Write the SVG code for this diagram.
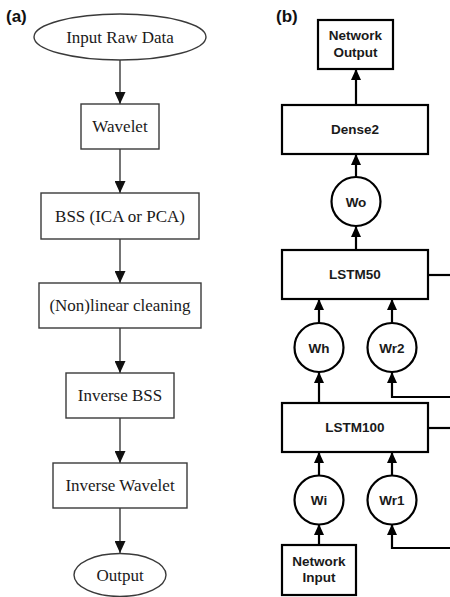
<svg xmlns="http://www.w3.org/2000/svg" width="450" height="597" viewBox="0 0 450 597">
<style>
.lbl{font-family:"Liberation Sans",Arial,sans-serif;font-weight:bold;font-size:17px;fill:#111}
.a-shape{fill:#fff;stroke:#3a3a3a;stroke-width:1.4}
.a-txt{font-family:"Liberation Serif","Times New Roman",serif;font-size:17px;fill:#1a1a1a;text-anchor:middle}
.b-shape{fill:#fff;stroke:#000;stroke-width:2.2}
.b-txt{font-family:"Liberation Sans",Arial,sans-serif;font-weight:bold;font-size:13.5px;fill:#1a1a1a;text-anchor:middle}
.a-con{fill:none;stroke:#3a3a3a;stroke-width:1.4;marker-end:url(#ha)}
.b-con{fill:none;stroke:#000;stroke-width:2.2;marker-end:url(#hb)}
.b-line{fill:none;stroke:#000;stroke-width:2.2}
</style>
<defs>
<marker id="ha" markerUnits="userSpaceOnUse" markerWidth="12" markerHeight="11" refX="12" refY="5.5" orient="auto"><path d="M0,0 L12,5.5 L0,11 z" fill="#111"/></marker>
<marker id="hb" markerUnits="userSpaceOnUse" markerWidth="11" markerHeight="10" refX="11" refY="5" orient="auto"><path d="M0,0 L11,5 L0,10 z" fill="#000"/></marker>
</defs>
<rect width="450" height="597" fill="#fff"/>
<text class="lbl" x="6" y="22">(a)</text>
<text class="lbl" x="276" y="22">(b)</text>

<g id="connectors">
<path class="a-con" d="M120,60 V104"/>
<path class="a-con" d="M120,149 V193"/>
<path class="a-con" d="M120,239 V283"/>
<path class="a-con" d="M120,328 V373"/>
<path class="a-con" d="M120,418 V463"/>
<path class="a-con" d="M120,508 V553"/>

<path class="b-con" d="M356,105 V69"/>
<path class="b-con" d="M356,177 V154"/>
<path class="b-con" d="M356,250 V226"/>
<path class="b-con" d="M319,323 V299"/>
<path class="b-con" d="M392,323 V299"/>
<path class="b-con" d="M319,403 V372"/>
<path class="b-con" d="M450,397 H392 V372"/>
<path class="b-line" d="M428,275 H450"/>
<path class="b-line" d="M428,428 H450"/>
<path class="b-con" d="M319,476 V452"/>
<path class="b-con" d="M392,476 V452"/>
<path class="b-con" d="M319,545 V524"/>
<path class="b-con" d="M450,548 H392 V524"/>
</g>

<g id="input-raw-data"><ellipse class="a-shape" cx="120" cy="37" rx="86" ry="23"/><text class="a-txt" x="120" y="43">Input Raw Data</text></g>
<g id="wavelet"><rect class="a-shape" x="81" y="104" width="78" height="45"/><text class="a-txt" x="120" y="132">Wavelet</text></g>
<g id="bss"><rect class="a-shape" x="41" y="193" width="158" height="46"/><text class="a-txt" x="120" y="221.5">BSS (ICA or PCA)</text></g>
<g id="nonlinear"><rect class="a-shape" x="39" y="283" width="162" height="45"/><text class="a-txt" x="120" y="311">(Non)linear cleaning</text></g>
<g id="inverse-bss"><rect class="a-shape" x="66" y="373" width="108" height="45"/><text class="a-txt" x="120" y="401">Inverse BSS</text></g>
<g id="inverse-wavelet"><rect class="a-shape" x="53" y="463" width="134" height="45"/><text class="a-txt" x="120" y="491">Inverse Wavelet</text></g>
<g id="output"><ellipse class="a-shape" cx="120" cy="575" rx="46" ry="21.5"/><text class="a-txt" x="120" y="581">Output</text></g>

<g id="network-output"><rect class="b-shape" x="318" y="20" width="75" height="49"/><text class="b-txt" x="355.5" y="40">Network</text><text class="b-txt" x="355.5" y="57">Output</text></g>
<g id="dense2"><rect class="b-shape" x="282" y="105" width="146" height="49"/><text class="b-txt" x="355" y="134">Dense2</text></g>
<g id="wo"><circle class="b-shape" cx="356" cy="201.5" r="24.5"/><text class="b-txt" x="356" y="206.5">Wo</text></g>
<g id="lstm50"><rect class="b-shape" x="282" y="250" width="146" height="49"/><text class="b-txt" x="355" y="278.5">LSTM50</text></g>
<g id="wh"><circle class="b-shape" cx="319" cy="347.5" r="24.5"/><text class="b-txt" x="319" y="352.5">Wh</text></g>
<g id="wr2"><circle class="b-shape" cx="392" cy="347.5" r="24.5"/><text class="b-txt" x="392" y="352.5">Wr2</text></g>
<g id="lstm100"><rect class="b-shape" x="282" y="403" width="146" height="49"/><text class="b-txt" x="355" y="431.5">LSTM100</text></g>
<g id="wi"><circle class="b-shape" cx="319" cy="500" r="24.5"/><text class="b-txt" x="319" y="505">Wi</text></g>
<g id="wr1"><circle class="b-shape" cx="392" cy="500" r="24.5"/><text class="b-txt" x="392" y="505">Wr1</text></g>
<g id="network-input"><rect class="b-shape" x="282" y="545" width="74" height="50"/><text class="b-txt" x="319" y="566">Network</text><text class="b-txt" x="319" y="582">Input</text></g>
</svg>
